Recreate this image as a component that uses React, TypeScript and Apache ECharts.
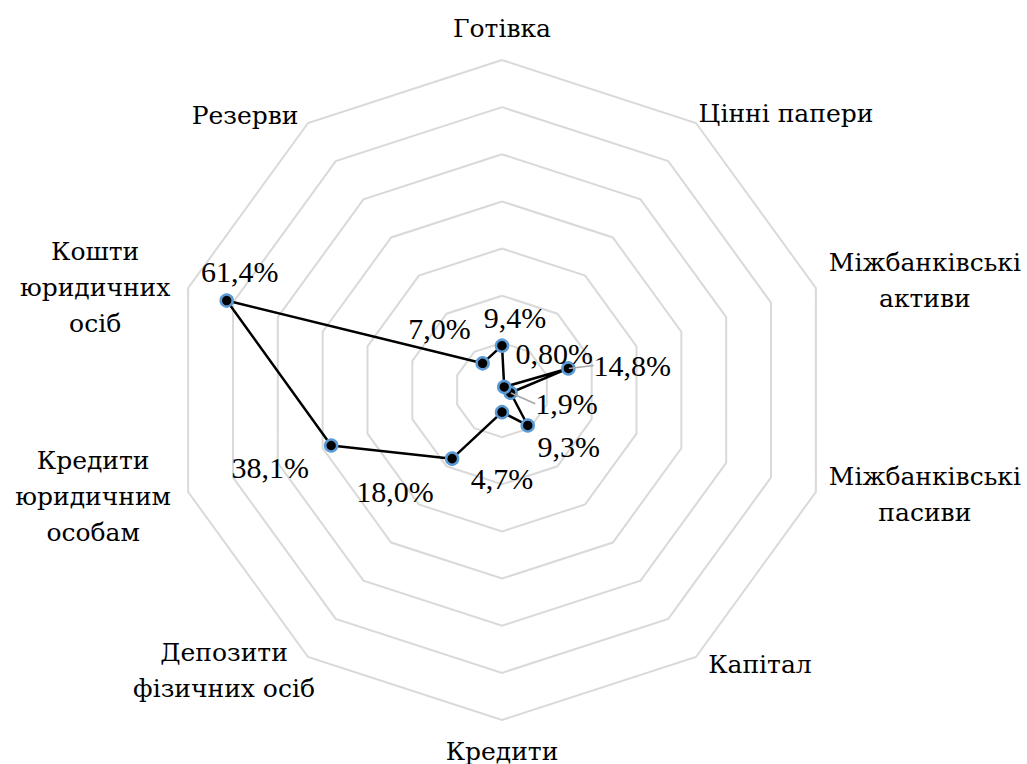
import React, { useEffect, useRef } from "react";
import * as echarts from "echarts";

// ---- data (clockwise from the top) ----
const categories = [
  "Готівка",
  "Цінні папери",
  "Міжбанківські активи",
  "Міжбанківські пасиви",
  "Капітал",
  "Кредити",
  "Депозити фізичних осіб",
  "Кредити юридичним особам",
  "Кошти юридичних осіб",
  "Резерви",
];
const categoryLabels = [
  "Готівка",
  "Цінні папери",
  "Міжбанківські\nактиви",
  "Міжбанківські\nпасиви",
  "Капітал",
  "Кредити",
  "Депозити\nфізичних осіб",
  "Кредити\nюридичним\nособам",
  "Кошти\nюридичних\nосіб",
  "Резерви",
];
const values = [9.4, 0.8, 14.8, 1.9, 9.3, 4.7, 18.0, 38.1, 61.4, 7.0];
const valueLabels = ["9,4%", "0,80%", "14,8%", "1,9%", "9,3%", "4,7%", "18,0%", "38,1%", "61,4%", "7,0%"];
const axisMax = 70;
const ringCount = 7;

// ---- styles (label offsets in px) ----
const valueLabelOffsets = [
  [13, -28], [50, -33], [64, -3], [56, 11], [41, 21],
  [0, 66], [-57, 33], [-61, 22], [13, -29], [-43, -35],
];
const leaderLineItems = [2, 3];
const nameOffsets = [
  [0, -32], [90, -10], [109, -8], [109, 3], [64, 8],
  [0, 31], [-84, 14], [-95, 5], [-93, -1], [-63, -8],
];
const FONT_NAMES = "DejaVu Serif";
const FONT_VALUES = "Liberation Serif";
const CENTER = [502, 390];
const RADIUS = 330;

export default function App() {
  const ref = useRef<HTMLDivElement>(null);
  useEffect(() => {
    document.body.style.margin = "0";
    if (!ref.current) return;
    const chart = echarts.init(ref.current, undefined, { renderer: "svg" });
    // ECharts radar places indicators counter-clockwise; reorder to get a clockwise layout
    const order = [0, ...categories.map((_, i) => i).slice(1).reverse()];
    const indicator = order.map((i) => ({ name: categories[i], min: 0, max: axisMax }));
    const radarValues = order.map((i) => values[i]);

    const option: any = {
      animation: false,
      backgroundColor: "#ffffff",
      radar: {
        center: CENTER,
        radius: RADIUS,
        startAngle: 90,
        splitNumber: ringCount,
        shape: "polygon",
        indicator,
        axisName: { show: false },
        axisLine: { show: false },
        axisTick: { show: false },
        axisLabel: { show: false },
        splitLine: { lineStyle: { color: "#d9d9d9", width: 2 } },
        splitArea: { show: false },
      },
      polar: { center: CENTER, radius: RADIUS },
      angleAxis: {
        type: "category",
        data: order.map((i) => categories[i]),
        startAngle: 90,
        clockwise: false,
        boundaryGap: false,
        axisLine: { show: false },
        axisTick: { show: false },
        axisLabel: { show: false },
        splitLine: { show: false },
      },
      radiusAxis: {
        type: "value",
        min: 0,
        max: axisMax,
        axisLine: { show: false },
        axisTick: { show: false },
        axisLabel: { show: false },
        splitLine: { show: false },
      },
      series: [
        {
          type: "radar",
          z: 3,
          silent: true,
          symbol: "circle",
          symbolSize: 12,
          lineStyle: { color: "#000000", width: 2.5 },
          itemStyle: { color: "#000000", borderColor: "#5b9bd5", borderWidth: 2.5 },
          data: [{ name: "Структура", value: radarValues }],
        },
        {
          type: "scatter",
          coordinateSystem: "polar",
          silent: true,
          z: 4,
          symbolSize: 1,
          itemStyle: { color: "rgba(0,0,0,0)" },
          label: {
            show: true,
            position: "inside",
            align: "center",
            verticalAlign: "middle",
            fontFamily: FONT_VALUES,
            fontSize: 30,
            color: "#000000",
            opacity: 1,
            formatter: (p: any) => valueLabels[p.dataIndex],
          },
          labelLine: { show: false, lineStyle: { color: "#a6a6a6", width: 1.5 } },
          labelLayout: (p: any) => ({ dx: valueLabelOffsets[p.dataIndex][0], dy: valueLabelOffsets[p.dataIndex][1] }),
          data: categories.map((c, i) => ({
            value: [values[i], c],
            labelLine: leaderLineItems.includes(i)
              ? { show: true, lineStyle: { color: "#a6a6a6", width: 1.5 } }
              : { show: false },
          })),
        },
        {
          type: "scatter",
          coordinateSystem: "polar",
          silent: true,
          z: 4,
          symbolSize: 1,
          itemStyle: { color: "rgba(0,0,0,0)" },
          label: {
            show: true,
            position: "inside",
            align: "center",
            verticalAlign: "middle",
            fontFamily: FONT_NAMES,
            fontSize: 25,
            lineHeight: 36,
            color: "#000000",
            opacity: 1,
            formatter: (p: any) => categoryLabels[p.dataIndex],
          },
          data: categories.map((c, i) => ({
            value: [axisMax, c],
            label: { offset: nameOffsets[i] },
          })),
        },
      ],
    };
    chart.setOption(option);
    return () => chart.dispose();
  }, []);
  return <div ref={ref} style={{ width: 1027, height: 764 }} />;
}
